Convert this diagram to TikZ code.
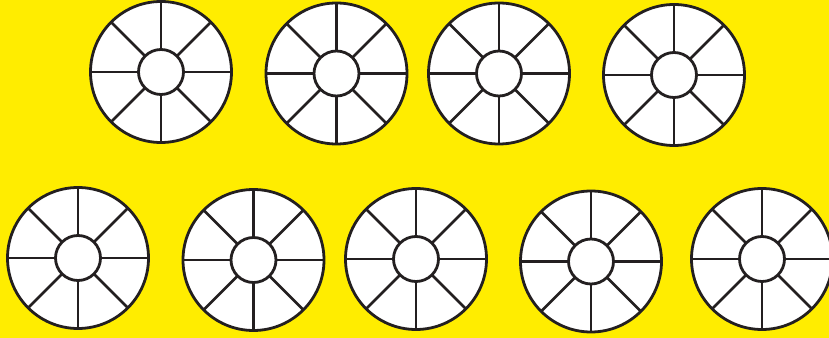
\documentclass[tikz,border=0pt]{standalone}
\usetikzlibrary{calc}
\definecolor{bgyellow}{RGB}{255,237,0}
\definecolor{ink}{RGB}{35,31,32}
\tikzset{
  wheelline/.style={draw=ink, line width=2.1pt},
  wheelfill/.style={wheelline, fill=white},
}
\begin{document}
\begin{tikzpicture}[x=0.75pt,y=-0.75pt]
\fill[bgyellow] (0,0) rectangle (829,338);
\useasboundingbox (0,0) rectangle (829,338);
\foreach \n/\cx/\cy in {w1/161/72, w2/336.5/73.5, w3/499/73.5, w4/674/75,
  w5/78/258, w6/253.5/260, w7/416/259, w8/591/261.5, w9/762/259}{
  \coordinate (\n) at (\cx,\cy);
  \draw[wheelfill] (\n) circle[radius=70.5];
  \foreach \a in {0,45,...,315}{
    \draw[wheelline] ($(\n)+(\a:22.5)$) -- ($(\n)+(\a:70.5)$);
  }
  \draw[wheelfill] (\n) circle[radius=22.5];
}
\end{tikzpicture}
\end{document}
